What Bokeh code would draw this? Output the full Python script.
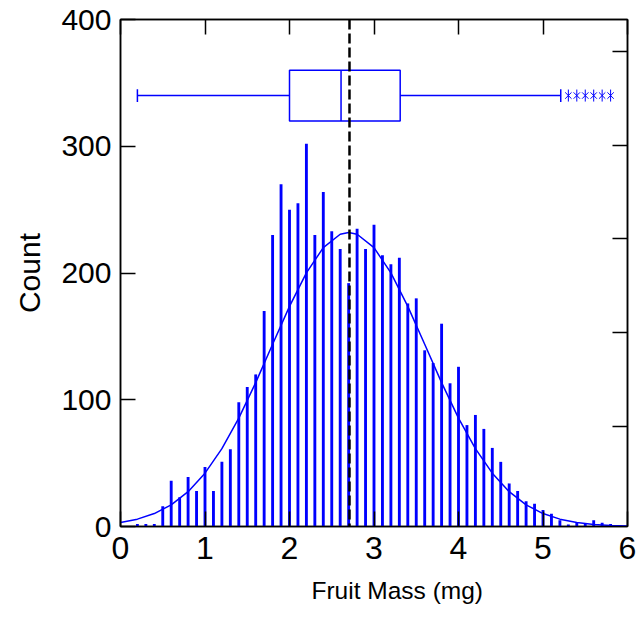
from bokeh.plotting import figure
from bokeh.models import (Range1d, LinearAxis, FixedTicker, Span, Title,
                          CustomJSTickFormatter)
from bokeh.embed import file_html
from bokeh.resources import INLINE

# ---------------- data ----------------
bin_centers = [0.2, 0.3, 0.4, 0.5, 0.6, 0.7, 0.8, 0.9, 1.0, 1.1, 1.2, 1.3, 1.4,
               1.5, 1.6, 1.7, 1.8, 1.9, 2.0, 2.1, 2.2, 2.3, 2.4, 2.5, 2.6, 2.7,
               2.8, 2.9, 3.0, 3.1, 3.2, 3.3, 3.4, 3.5, 3.6, 3.7, 3.8, 3.9, 4.0,
               4.1, 4.2, 4.3, 4.4, 4.5, 4.6, 4.7, 4.8, 4.9, 5.0, 5.1, 5.2, 5.3,
               5.4, 5.5, 5.6, 5.7, 5.8]
counts = [2, 2, 2, 16, 36, 23, 39, 28, 47, 28, 51, 61, 98,
          110, 120, 170, 230, 270, 250, 255, 302, 230, 264, 233, 219, 192,
          235, 219, 238, 214, 207, 212, 176, 180, 139, 129, 160, 113, 126,
          80, 88, 77, 62, 51, 34, 28, 20, 18, 13, 10, 5, 1.5,
          3, 2, 5, 3, 2]

# fitted normal curve
curve_x = [0.0, 0.2, 0.4, 0.6, 0.8, 1.0, 1.2, 1.4, 1.6, 1.8, 2.0, 2.2, 2.4,
           2.6, 2.7, 2.8, 3.0, 3.2, 3.4, 3.6, 3.8, 4.0, 4.2, 4.4, 4.6, 4.8,
           5.0, 5.2, 5.4, 5.6, 5.8, 6.0]
curve_y = [3.1, 5.8, 10.2, 17.1, 27.5, 42.1, 61.4, 85.5, 113.5, 143.8, 173.7,
           200.1, 220.0, 230.6, 232.0, 230.6, 220.0, 200.1, 173.7, 143.8, 113.5,
           85.5, 61.4, 42.1, 27.5, 17.1, 10.2, 5.8, 3.1, 1.6, 0.8, 0.4]

mean_value = 2.71

# box plot summary
whisker_low = 0.2
q1 = 2.0
median = 2.61
q3 = 3.31
whisker_high = 5.21
outliers = [5.3, 5.4, 5.5, 5.6, 5.7, 5.8]

x_ticks = [0, 1, 2, 3, 4, 5, 6]
y_ticks = [0, 100, 200, 300, 400]
right_ticks = [1, 2, 3, 4, 5]

# box placement (count units)
box_y = 340
box_half = 20
cap_half = 5

BLUE = "#0000ff"
FONT = "Liberation Sans"

p = figure(width=639, height=617, x_range=Range1d(0, 6), y_range=Range1d(0, 400),
           output_backend="svg", toolbar_location=None,
           min_border_left=120, min_border_right=12, min_border_top=19,
           min_border_bottom=91)
p.xgrid.visible = False
p.ygrid.visible = False
p.outline_line_color = "black"
p.outline_line_width = 1.5
p.background_fill_color = "white"
p.border_fill_color = "white"

bottom_axis = p.below[0]
left_axis = p.left[0]

p.extra_y_ranges = {"right": Range1d(-0.07, 5.34)}

top_axis = LinearAxis(ticker=FixedTicker(ticks=x_ticks),
                      formatter=CustomJSTickFormatter(code="return ''"))
right_axis = LinearAxis(y_range_name="right", ticker=FixedTicker(ticks=right_ticks),
                        formatter=CustomJSTickFormatter(code="return ''"))
p.add_layout(top_axis, "above")
p.add_layout(right_axis, "right")

bottom_axis.ticker = FixedTicker(ticks=x_ticks)
left_axis.ticker = FixedTicker(ticks=y_ticks)

for ax in [bottom_axis, left_axis, top_axis, right_axis]:
    ax.major_tick_in = 15
    ax.major_tick_out = 0
    ax.minor_tick_in = 0
    ax.minor_tick_out = 0
    ax.axis_line_color = "black"
    ax.axis_line_width = 1.5
    ax.major_tick_line_color = "black"
    ax.major_tick_line_width = 1.5
    ax.major_label_text_font = FONT
    ax.major_label_text_font_size = "30px"
    ax.major_label_text_color = "black"

for ax in [top_axis, right_axis]:
    ax.major_label_text_font_size = "1px"
    ax.major_label_standoff = 0

bottom_axis.major_label_text_font_size = "32px"
bottom_axis.major_label_standoff = 10
left_axis.major_label_standoff = 9

left_axis.axis_label = "Count"
left_axis.axis_label_text_font = FONT
left_axis.axis_label_text_font_size = "30px"
left_axis.axis_label_text_font_style = "normal"
left_axis.axis_label_text_color = "black"
left_axis.axis_label_standoff = 12

# histogram bars
p.vbar(x=bin_centers, top=counts, width=0.034, fill_color=BLUE, line_color=None)

# normal fit
p.line(curve_x, curve_y, line_color=BLUE, line_width=1.5)

# mean line
p.add_layout(Span(location=mean_value, dimension="height", line_color="black",
                  line_dash="10 4", line_width=2.5))

# box plot
p.quad(left=[q1], right=[q3], bottom=[box_y - box_half], top=[box_y + box_half],
       fill_alpha=0, line_color=BLUE, line_width=1.5)
p.segment(x0=[median], x1=[median], y0=[box_y - box_half], y1=[box_y + box_half],
          line_color=BLUE, line_width=1.5)
p.segment(x0=[whisker_low, q3], x1=[q1, whisker_high], y0=[box_y, box_y],
          y1=[box_y, box_y], line_color=BLUE, line_width=1.5)
p.segment(x0=[whisker_low, whisker_high], x1=[whisker_low, whisker_high],
          y0=[box_y - cap_half] * 2, y1=[box_y + cap_half] * 2,
          line_color=BLUE, line_width=1.5)
p.scatter(outliers, [box_y] * len(outliers), marker="x", size=9,
          line_color=BLUE, line_width=1)
p.scatter(outliers, [box_y] * len(outliers), marker="dash", angle=1.5708,
          size=12, line_color=BLUE, line_width=1)

# x axis title (placed slightly right of centre as in the original)
p.add_layout(Title(text="Fruit Mass (mg)", align="left", offset=191,
                   standoff=26, text_font=FONT, text_font_size="24.5px",
                   text_font_style="normal", text_color="black"), "below")

open("out.html", "w").write(file_html(p, INLINE))
